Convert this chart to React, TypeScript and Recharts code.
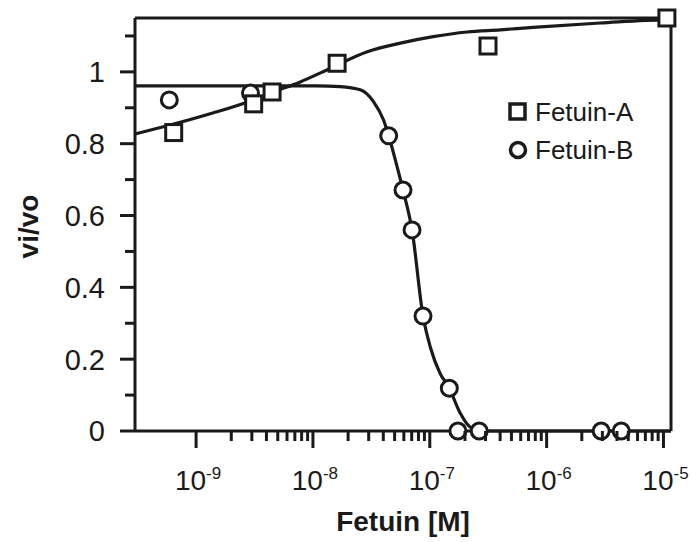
import React from 'react'
import { ComposedChart, Line, Scatter, XAxis, YAxis, ReferenceLine, Label } from 'recharts'

const fetuinAConc = [6.43e-10, 3.11e-9, 4.47e-9, 1.61e-8, 3.15e-7, 1.07e-5]
const fetuinARatio = [0.831, 0.911, 0.944, 1.024, 1.072, 1.15]

const fetuinBConc = [5.9e-10, 2.92e-9, 4.45e-8, 5.9e-8, 7.05e-8, 8.75e-8, 1.47e-7, 1.74e-7, 2.65e-7, 2.93e-6, 4.35e-6]
const fetuinBRatio = [0.922, 0.941, 0.822, 0.671, 0.56, 0.32, 0.119, 0, 0, 0, 0]

// fitted curves
const fitAConc = [3e-10, 5.25e-10, 1.41e-9, 3.09e-9, 4.58e-9, 7.8e-9, 1.33e-8, 2.92e-8, 5.6e-8, 1.07e-7, 2.09e-7, 4.01e-7, 7.67e-7, 2.87e-6, 1.05e-5, 1.16e-5]
const fitARatio = [0.827, 0.847, 0.886, 0.922, 0.944, 0.972, 1.006, 1.056, 1.08, 1.098, 1.111, 1.117, 1.124, 1.136, 1.145, 1.145]

const fitBConc = [3e-10, 1.08e-8, 1.71e-8, 2.54e-8, 3.3e-8, 4.02e-8, 4.45e-8, 5.07e-8, 5.9e-8, 7.05e-8, 8.75e-8, 1.01e-7, 1.23e-7, 1.45e-7, 1.82e-7, 2.22e-7, 2.98e-7, 1.16e-5]
const fitBRatio = [0.961, 0.961, 0.959, 0.95, 0.917, 0.866, 0.822, 0.755, 0.671, 0.56, 0.32, 0.234, 0.159, 0.123, 0.05, 0.011, 0, 0]

const xDecades = [1e-9, 1e-8, 1e-7, 1e-6, 1e-5]
const xDecadeExponents = ['-9', '-8', '-7', '-6', '-5']
const xMinorSteps = [2, 3, 4, 5, 6, 7, 8, 9]
const yMajor = [0, 0.2, 0.4, 0.6, 0.8, 1]
const yMajorLabels = ['0', '0.2', '0.4', '0.6', '0.8', '1']
const yMinor = [0.1, 0.3, 0.5, 0.7, 0.9, 1.1]

const X_MIN = 3e-10
const X_MAX = 1.16e-5
const Y_MAX = 1.15

const INK = '#1a1a1a'
const FONT = 'Arial, "Liberation Sans", sans-serif'

const zip = (xs: number[], ys: number[]) => xs.map((x, i) => ({ x, y: ys[i] }))

const dataA = zip(fetuinAConc, fetuinARatio)
const dataB = zip(fetuinBConc, fetuinBRatio)
const curveA = zip(fitAConc, fitARatio)
const curveB = zip(fitBConc, fitBRatio)

const xTicks = [
  ...[0.1, ...xDecades.slice(0, 4)].flatMap((d) => xMinorSteps.map((m) => m * d)).filter((v) => v >= X_MIN * 0.999),
  ...xDecades,
].sort((a, b) => a - b)
const yTicks = [...yMajor, ...yMinor].sort((a, b) => a - b)

function XTick({ x, y, payload }: any) {
  const idx = xDecades.findIndex((d) => Math.abs(d - payload.value) < d * 1e-6)
  const major = idx >= 0
  return (
    <g>
      <line x1={x} x2={x} y1={y} y2={y + (major ? 17 : 10)} stroke={INK} strokeWidth={3} />
      {major && (
        <text x={x + 2} y={y + 59} textAnchor="middle" fontFamily={FONT} fontSize={28} fill={INK}>
          <tspan>10</tspan>
          <tspan dy={-11} fontSize={17}>{xDecadeExponents[idx]}</tspan>
        </text>
      )}
    </g>
  )
}

function YTick({ x, y, payload }: any) {
  const idx = yMajor.findIndex((v) => Math.abs(v - payload.value) < 1e-6)
  const major = idx >= 0
  return (
    <g>
      <line x1={x} x2={x - (major ? 15 : 10)} y1={y} y2={y} stroke={INK} strokeWidth={3} />
      {major && (
        <text x={x - 30} y={y} dy="0.36em" textAnchor="end" fontFamily={FONT} fontSize={29} fill={INK}>
          {yMajorLabels[idx]}
        </text>
      )}
    </g>
  )
}

const SquareMark = ({ cx, cy }: any) => (
  <rect x={cx - 8} y={cy - 8} width={16} height={16} fill="#fff" stroke={INK} strokeWidth={3} />
)
const CircleMark = ({ cx, cy }: any) => <circle cx={cx} cy={cy} r={8} fill="#fff" stroke={INK} strokeWidth={3} />

function LegendBox() {
  const row = { display: 'flex', alignItems: 'center', height: 38 } as const
  const txt = { fontFamily: FONT, fontSize: 26, color: INK, marginLeft: 7, lineHeight: '38px' }
  return (
    <div style={{ position: 'absolute', left: 508, top: 93 }}>
      <div style={row}>
        <svg width={20} height={20}>
          <rect x={2} y={2} width={15} height={15} fill="#fff" stroke={INK} strokeWidth={3.5} />
        </svg>
        <span style={txt}>Fetuin-A</span>
      </div>
      <div style={row}>
        <svg width={20} height={20}>
          <circle cx={10} cy={10} r={7.5} fill="#fff" stroke={INK} strokeWidth={3.5} />
        </svg>
        <span style={txt}>Fetuin-B</span>
      </div>
    </div>
  )
}

export default function App() {
  return (
    <div style={{ position: 'fixed', left: 0, top: 0, width: 692, height: 542, background: '#fff' }}>
      <ComposedChart width={692} height={542} margin={{ top: 18, right: 21, bottom: 0, left: 0 }}>
        <XAxis
          dataKey="x"
          type="number"
          scale="log"
          domain={[X_MIN, X_MAX]}
          ticks={xTicks}
          interval={0}
          tick={<XTick />}
          tickLine={false}
          tickSize={0}
          tickMargin={0}
          height={111}
          axisLine={{ stroke: INK, strokeWidth: 3 }}
        >
          <Label
            content={({ viewBox }: any) => (
              <text
                x={viewBox.x + viewBox.width / 2}
                y={viewBox.y + 100}
                textAnchor="middle"
                fontFamily={FONT}
                fontWeight="bold"
                fontSize={28}
                fill={INK}
              >
                Fetuin [M]
              </text>
            )}
          />
        </XAxis>
        <YAxis
          dataKey="y"
          type="number"
          domain={[0, Y_MAX]}
          ticks={yTicks}
          interval={0}
          tick={<YTick />}
          tickLine={false}
          tickSize={0}
          tickMargin={0}
          width={135}
          axisLine={{ stroke: INK, strokeWidth: 3 }}
        >
          <Label
            content={({ viewBox }: any) => {
              const cx = 28
              const cy = viewBox.y + viewBox.height / 2 + 2
              return (
                <text
                  x={cx}
                  y={cy}
                  dy="0.36em"
                  transform={`rotate(-90 ${cx} ${cy})`}
                  textAnchor="middle"
                  fontFamily={FONT}
                  fontWeight="bold"
                  fontSize={28}
                  fill={INK}
                >
                  vi/vo
                </text>
              )
            }}
          />
        </YAxis>
        <ReferenceLine y={Y_MAX} stroke={INK} strokeWidth={3} />
        <ReferenceLine x={X_MAX} stroke={INK} strokeWidth={3} />
        <Line data={curveB} dataKey="y" type="monotone" stroke={INK} strokeWidth={3.2} dot={false} isAnimationActive={false} />
        <Line data={curveA} dataKey="y" type="monotone" stroke={INK} strokeWidth={3.2} dot={false} isAnimationActive={false} />
        <Scatter name="Fetuin-B" data={dataB} shape={<CircleMark />} isAnimationActive={false} />
        <Scatter name="Fetuin-A" data={dataA} shape={<SquareMark />} isAnimationActive={false} />
      </ComposedChart>
      <LegendBox />
    </div>
  )
}
